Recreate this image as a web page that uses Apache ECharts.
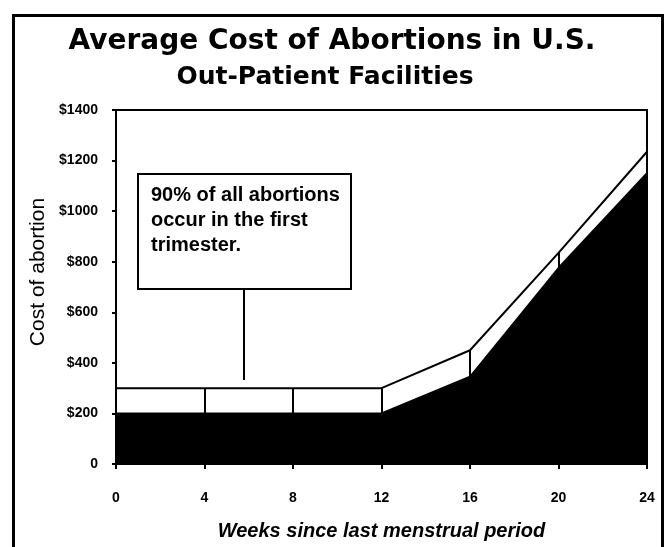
<!DOCTYPE html>
<html>
<head>
<meta charset="utf-8">
<script src="https://cdn.jsdelivr.net/npm/echarts@6/dist/echarts.min.js"></script>
<style>
html,body{margin:0;padding:0;background:#fff;}
#chart{width:664px;height:547px;}
</style>
</head>
<body>
<div id="chart"></div>
<script>
// weeks since last menstrual period
const weeks = [0, 4, 8, 12, 16, 20, 24];
// bottom edge of the cost band (black area)
const costLow = [200, 200, 200, 200, 345, 775, 1150];
// top edge of the cost band
const costHigh = [300, 300, 300, 300, 450, 835, 1235];
const titleLines = ['Average Cost of Abortions in U.S.', 'Out-Patient Facilities'];
const noteText = '90% of all abortions\noccur in the first\ntrimester.';

const lowData = weeks.map((w, i) => [w, costLow[i]]);
const highData = weeks.map((w, i) => [w, costHigh[i]]);
// little vertical dividers inside the white band
const dividers = weeks.map((w, i) => [{coord: [w, costLow[i]]}, {coord: [w, costHigh[i]]}]);

const chart = echarts.init(document.getElementById('chart'));
const option = {
  animation: false,
  backgroundColor: '#fff',
  grid: {
    left: 116, right: 17, top: 110, bottom: 83,
    outerBoundsMode: 'none',
    show: true, borderColor: '#000', borderWidth: 2
  },
  xAxis: {
    type: 'value', min: 0, max: 24, interval: 4,
    name: 'Weeks since last menstrual period',
    nameLocation: 'middle', nameGap: 57,
    nameTextStyle: {fontFamily: 'Liberation Sans', fontSize: 20, fontWeight: 'bold', fontStyle: 'italic', color: '#000'},
    axisLine: {lineStyle: {color: '#000', width: 2}},
    axisTick: {show: true, length: 5, lineStyle: {color: '#000', width: 2}},
    axisLabel: {margin: 27, fontFamily: 'Liberation Sans', fontSize: 14, fontWeight: 'bold', color: '#000'},
    splitLine: {show: false}
  },
  yAxis: {
    type: 'value', min: 0, max: 1400, interval: 200,
    axisLine: {show: true, lineStyle: {color: '#000', width: 2}},
    axisTick: {show: true, length: 4, lineStyle: {color: '#000', width: 2}},
    axisLabel: {
      margin: 18, fontFamily: 'Liberation Sans', fontSize: 14, fontWeight: 'bold', color: '#000',
      formatter: v => v === 0 ? '0' : '$' + v
    },
    splitLine: {show: false}
  },
  series: [
    {
      name: 'high',
      type: 'line',
      data: highData,
      showSymbol: false,
      lineStyle: {color: '#000', width: 2},
      areaStyle: {color: '#fff', opacity: 1},
      z: 2,
      markLine: {
        silent: true,
        symbol: 'none',
        label: {show: false},
        lineStyle: {color: '#000', width: 2, type: 'solid'},
        data: dividers
      }
    },
    {
      name: 'low',
      type: 'line',
      data: lowData,
      showSymbol: false,
      lineStyle: {color: '#000', width: 2},
      areaStyle: {color: '#000', opacity: 1},
      z: 3
    }
  ],
  graphic: [
    {
      type: 'rect', left: 11, top: 13, z: 0,
      shape: {width: 649, height: 560},
      style: {fill: 'none', stroke: '#000', lineWidth: 3}
    },
    {
      type: 'text', x: 332, y: 42, z: 10,
      style: {text: titleLines[0], align: 'center', verticalAlign: 'middle',
        fontFamily: 'DejaVu Sans', fontWeight: 'bold', fontSize: 28, fill: '#000'}
    },
    {
      type: 'text', x: 325, y: 77, z: 10,
      style: {text: titleLines[1], align: 'center', verticalAlign: 'middle',
        fontFamily: 'DejaVu Sans', fontWeight: 'bold', fontSize: 25, fill: '#000'}
    },
    {
      // y axis title, a bit above the middle as in the original
      type: 'text', x: 38, y: 272, rotation: Math.PI / 2, z: 10,
      style: {text: 'Cost of abortion', align: 'center', verticalAlign: 'middle',
        fontFamily: 'Liberation Sans', fontSize: 21, fill: '#000'}
    },
    {
      type: 'line', z: 10,
      shape: {x1: 244, y1: 288, x2: 244, y2: 380},
      style: {stroke: '#000', lineWidth: 2}
    },
    {
      type: 'rect', left: 137, top: 173, z: 10,
      shape: {width: 213, height: 115},
      style: {fill: '#fff', stroke: '#000', lineWidth: 2}
    },
    {
      type: 'text', x: 151, y: 183, z: 11,
      style: {text: noteText, fontFamily: 'Liberation Sans', fontWeight: 'bold', fontSize: 20,
        lineHeight: 25, fill: '#000'}
    }
  ]
};
chart.setOption(option);
</script>
</body>
</html>
